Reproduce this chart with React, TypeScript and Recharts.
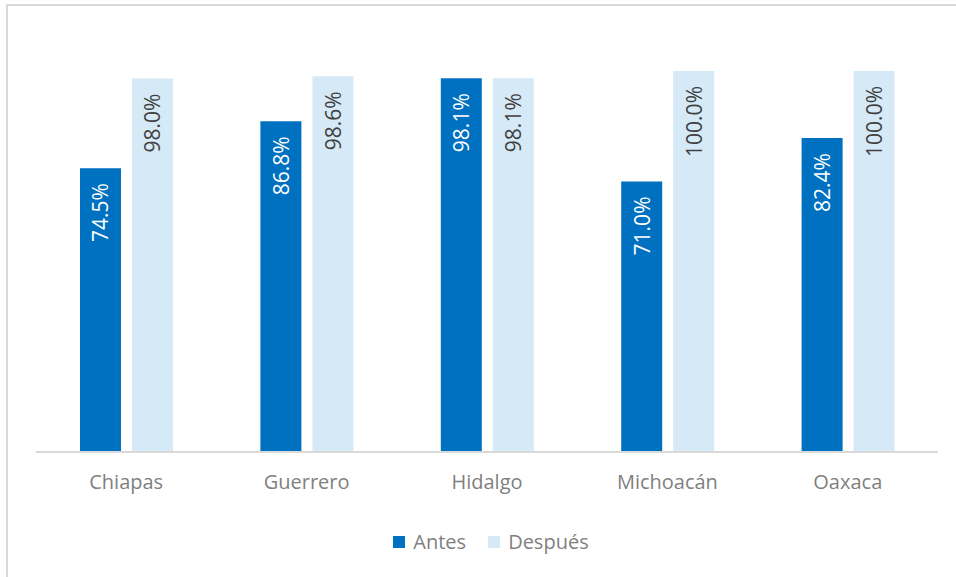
import React from "react";
import { BarChart, Bar, XAxis, YAxis, Legend, LabelList } from "recharts";

const states = ["Chiapas", "Guerrero", "Hidalgo", "Michoacán", "Oaxaca"];
const antes = [74.5, 86.8, 98.1, 71.0, 82.4];
const despues = [98.0, 98.6, 98.1, 100.0, 100.0];

const data = states.map((state, i) => ({
  state,
  antes: antes[i],
  despues: despues[i],
}));

const FONT = "'Open Sans', sans-serif";
const DARK = "#0070C0";
const LIGHT = "#D5E9F6";

const makeLabel = (color: string) => (props: any) => {
  const { x, y, width, value } = props;
  const cx = x + width / 2;
  const ty = y + 15;
  return (
    <text
      x={cx}
      y={ty}
      transform={`rotate(-90, ${cx}, ${ty})`}
      textAnchor="end"
      dominantBaseline="central"
      fill={color}
      fontSize={21}
      fontFamily={FONT}
    >
      {`${Number(value).toFixed(1)}%`}
    </text>
  );
};

const LegendContent = () => (
  <div
    style={{
      display: "flex",
      justifyContent: "center",
      paddingTop: 16,
      fontFamily: FONT,
      fontSize: 20,
      color: "#7F7F7F",
      paddingLeft: 8,
    }}
  >
    <span style={{ display: "flex", alignItems: "center", marginRight: 22 }}>
      <span style={{ width: 12, height: 12, background: DARK, marginRight: 8 }} />
      Antes
    </span>
    <span style={{ display: "flex", alignItems: "center" }}>
      <span style={{ width: 12, height: 12, background: LIGHT, marginRight: 8 }} />
      Después
    </span>
  </div>
);

export default function App() {
  return (
    <div
      style={{
        position: "absolute",
        left: 6,
        top: 4,
        width: 960,
        height: 590,
        border: "2px solid #D9D9D9",
        background: "#fff",
      }}
    >
      <BarChart
        width={950}
        height={575}
        data={data}
        margin={{ top: 65, right: 20, left: 28, bottom: 0 }}
        barSize={41}
        barGap={11}
      >
        <XAxis
          dataKey="state"
          axisLine={{ stroke: "#D9D9D9", strokeWidth: 2 }}
          tickLine={false}
          tickMargin={17}
          height={60}
          tick={{ fontSize: 20, fill: "#7F7F7F", fontFamily: FONT }}
        />
        <YAxis hide domain={[0, 100]} />
        <Legend verticalAlign="bottom" height={69} content={<LegendContent />} />
        <Bar dataKey="antes" fill={DARK} isAnimationActive={false}>
          <LabelList dataKey="antes" content={makeLabel("#FFFFFF")} />
        </Bar>
        <Bar dataKey="despues" fill={LIGHT} isAnimationActive={false}>
          <LabelList dataKey="despues" content={makeLabel("#404040")} />
        </Bar>
      </BarChart>
    </div>
  );
}
